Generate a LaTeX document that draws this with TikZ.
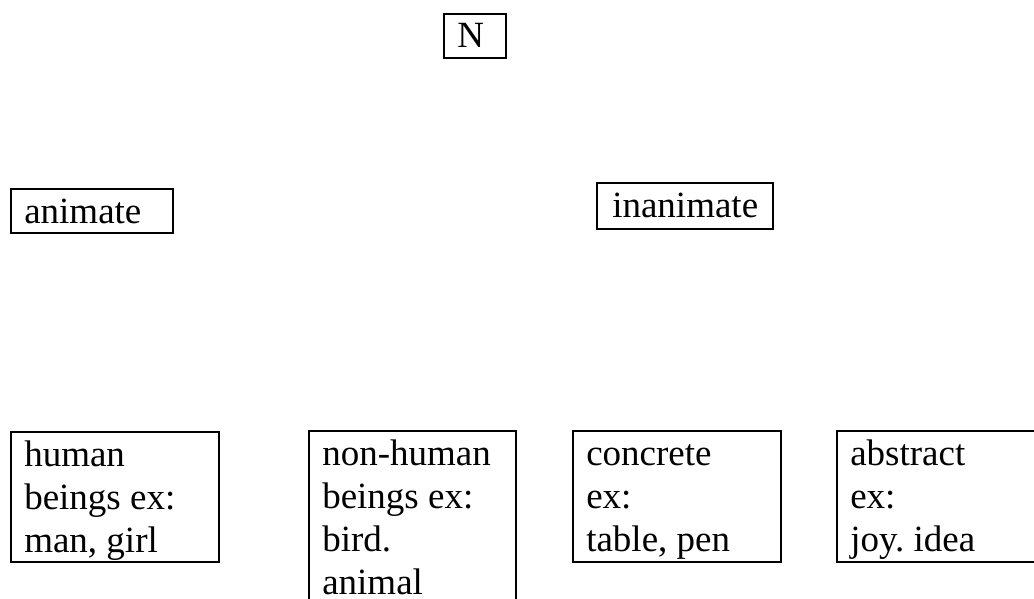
\documentclass[tikz,border=0pt]{standalone}
\usepackage{fontspec}
\setmainfont{Liberation Serif}
\frenchspacing
\begin{document}
\begin{tikzpicture}[x=0.75pt,y=-0.75pt,
  boxstyle/.style={draw=black,line width=1.5pt,inner sep=0pt,anchor=north west},
  txtstyle/.style={inner sep=0pt,anchor=north west,align=left,
    font=\fontsize{27.75}{32.25}\selectfont\frenchspacing}]
\clip (0,0) rectangle (1034,599);
\fill[white] (0,0) rectangle (1034,599);
% boxes
\node[boxstyle,minimum width=46.5pt,minimum height=33pt] (N) at (443,12.7) {};
\node[boxstyle,minimum width=121.5pt,minimum height=33pt] (animate) at (10,188) {};
\node[boxstyle,minimum width=132pt,minimum height=34.5pt] (inanimate) at (596,182) {};
\node[boxstyle,minimum width=156pt,minimum height=97.5pt] (human) at (10,431) {};
\node[boxstyle,minimum width=154.9pt,minimum height=160pt] (nonhuman) at (308,430) {};
\node[boxstyle,minimum width=156pt,minimum height=98.25pt] (concrete) at (572,430) {};
\node[boxstyle,minimum width=170pt,minimum height=98.25pt] (abstract) at (836,430) {};
% texts
\node[txtstyle] (Nt) at ([xshift=10.5pt,yshift=-3.7pt]N.north west) {\strut N};
\node[txtstyle] (animatet) at ([xshift=10.5pt,yshift=-3.7pt]animate.north west) {\strut animate};
\node[txtstyle] (inanimatet) at ([xshift=12pt,yshift=-3.7pt]inanimate.north west) {\strut inanimate};
\node[txtstyle] (humant) at ([xshift=10.5pt,yshift=-3.7pt]human.north west) {\strut human\\beings ex:\\man, girl};
\node[txtstyle] (nonhumant) at ([xshift=10.5pt,yshift=-3.7pt]nonhuman.north west) {\strut non-human\\beings ex:\\bird.\\animal};
\node[txtstyle] (concretet) at ([xshift=10.5pt,yshift=-3.7pt]concrete.north west) {\strut concrete\\ex:\\table, pen};
\node[txtstyle] (abstractt) at ([xshift=10.5pt,yshift=-3.7pt]abstract.north west) {\strut abstract\\ex:\\joy. idea};
\end{tikzpicture}
\end{document}
